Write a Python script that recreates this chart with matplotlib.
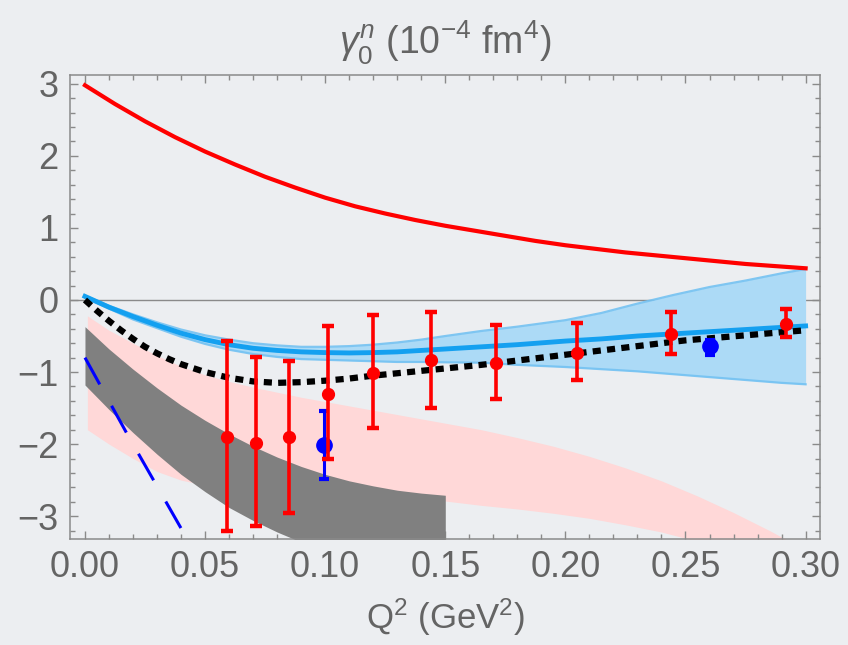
import matplotlib
matplotlib.use("Agg")
import matplotlib.pyplot as plt
from matplotlib.ticker import MultipleLocator, FormatStrFormatter

# Q^2 in GeV^2, gamma_0^n in 10^-4 fm^4
q_red = [0, 0.0125, 0.025, 0.0375, 0.05, 0.0625, 0.075, 0.0875, 0.1, 0.1125, 0.125,
         0.1375, 0.15, 0.1625, 0.175, 0.1875, 0.2, 0.225, 0.25, 0.275, 0.3]
red_curve = [2.98, 2.72, 2.48, 2.26, 2.06, 1.88, 1.71, 1.56, 1.42, 1.30, 1.20,
             1.11, 1.03, 0.96, 0.89, 0.82, 0.76, 0.66, 0.58, 0.50, 0.44]

q_blue = [0, 0.01, 0.02, 0.03, 0.04, 0.05, 0.06, 0.07, 0.08, 0.09, 0.1, 0.11, 0.12,
          0.13, 0.14, 0.15, 0.165, 0.18, 0.2, 0.215, 0.23, 0.245, 0.26, 0.275, 0.29, 0.3]
blue_mid = [0.05, -0.10, -0.23, -0.35, -0.46, -0.55, -0.62, -0.67, -0.70, -0.72, -0.73,
            -0.735, -0.73, -0.72, -0.70, -0.68, -0.65, -0.62, -0.57, -0.54, -0.50,
            -0.47, -0.44, -0.41, -0.38, -0.36]
blue_hi = [0.06, -0.08, -0.20, -0.31, -0.41, -0.49, -0.55, -0.60, -0.63, -0.65, -0.65,
           -0.64, -0.62, -0.59, -0.55, -0.50, -0.43, -0.37, -0.28, -0.18, -0.05,
           0.07, 0.18, 0.27, 0.37, 0.43]
blue_lo = [0.04, -0.12, -0.27, -0.39, -0.51, -0.61, -0.69, -0.75, -0.79, -0.82, -0.83,
           -0.84, -0.85, -0.86, -0.86, -0.865, -0.87, -0.90, -0.93, -0.96, -0.99,
           -1.03, -1.07, -1.11, -1.15, -1.17]

q_black = [0, 0.005, 0.01, 0.015, 0.02, 0.025, 0.03, 0.035, 0.04, 0.05, 0.06, 0.07,
           0.08, 0.09, 0.1, 0.11, 0.12, 0.135, 0.15, 0.165, 0.185, 0.205, 0.225, 0.25,
           0.275, 0.3]
black_curve = [0.0, -0.15, -0.29, -0.42, -0.54, -0.65, -0.74, -0.82, -0.89, -1.00,
               -1.08, -1.13, -1.15, -1.14, -1.12, -1.09, -1.05, -1.00, -0.95, -0.90,
               -0.82, -0.74, -0.66, -0.56, -0.49, -0.42]

q_pink = [0.001, 0.01, 0.02, 0.03, 0.04, 0.05, 0.06, 0.07, 0.08, 0.09, 0.1, 0.11, 0.12,
          0.135, 0.15, 0.165, 0.18, 0.195, 0.21, 0.225, 0.24, 0.255, 0.27, 0.285, 0.295]
pink_hi = [-0.22, -0.42, -0.60, -0.77, -0.92, -1.04, -1.13, -1.21, -1.28, -1.35, -1.41,
           -1.47, -1.53, -1.62, -1.71, -1.80, -1.91, -2.03, -2.17, -2.33, -2.51, -2.72,
           -2.95, -3.20, -3.38]
pink_lo = [-1.80, -2.00, -2.20, -2.38, -2.50, -2.57, -2.60, -2.63, -2.65, -2.67, -2.69,
           -2.71, -2.73, -2.76, -2.79, -2.85, -2.90, -2.96, -3.03, -3.12, -3.22, -3.35,
           -3.47, -3.60, -3.70]

q_gray = [0, 0.01, 0.02, 0.03, 0.04, 0.05, 0.06, 0.07, 0.08, 0.09, 0.1, 0.11, 0.12,
          0.13, 0.14, 0.15]
gray_hi = [-0.37, -0.68, -0.96, -1.22, -1.46, -1.67, -1.86, -2.03, -2.18, -2.31, -2.42,
           -2.51, -2.58, -2.64, -2.68, -2.71]
gray_lo = [-1.18, -1.52, -1.84, -2.14, -2.42, -2.66, -2.88, -3.06, -3.22, -3.36, -3.48,
           -3.60, -3.70, -3.80, -3.88, -3.95]

q_dash = [0, 0.0174, 0.045]
dash_curve = [-0.80, -1.85, -3.46]

x_exp = [0.059, 0.071, 0.085, 0.101, 0.120, 0.144, 0.171, 0.205, 0.244, 0.292]
y_exp = [-1.90, -1.98, -1.90, -1.30, -1.01, -0.83, -0.87, -0.73, -0.47, -0.33]
top_exp = [-0.57, -0.79, -0.85, -0.36, -0.21, -0.17, -0.35, -0.32, -0.16, -0.12]
bot_exp = [-3.20, -3.14, -2.95, -2.20, -1.77, -1.50, -1.37, -1.11, -0.75, -0.52]

x_blue_pts = [0.0997, 0.26]
y_blue_pts = [-2.01, -0.64]
top_blue_pts = [-1.54, -0.55]
bot_blue_pts = [-2.49, -0.76]

bg = "#eceef1"
frame = "#8a8a8a"
text_col = "#646464"

plt.rcParams["font.family"] = ["Liberation Sans", "DejaVu Sans"]
plt.rcParams["mathtext.fontset"] = "custom"
plt.rcParams["mathtext.rm"] = "Liberation Sans"
plt.rcParams["mathtext.it"] = "Liberation Sans:italic"

fig = plt.figure(figsize=(8.48, 6.45), dpi=100, facecolor=bg)
ax = fig.add_axes([0.0825, 0.164, 0.8845, 0.72])
ax.set_facecolor(bg)

ax.fill_between(q_pink, pink_lo, pink_hi, color="#ffd8d8", lw=0, zorder=1)
ax.fill_between(q_gray, gray_lo, gray_hi, color="#808080", lw=0, zorder=2)
ax.plot(q_dash, dash_curve, color="#0000ff", lw=2.2, dashes=(10, 8), zorder=3)

ax.fill_between(q_blue, blue_lo, blue_hi, color="#acdaf6", lw=0, zorder=4)
ax.plot(q_blue, blue_hi, color="#74c2f2", lw=1.6, alpha=0.9, zorder=4)
ax.plot(q_blue, blue_lo, color="#74c2f2", lw=1.6, alpha=0.9, zorder=4)
ax.plot(q_blue, blue_mid, color="#14a0f0", lw=3.5, zorder=5)

ax.axhline(0, color=frame, lw=1, zorder=3.5)

ax.plot(q_black, black_curve, color="black", lw=4.5, dashes=(1.3, 1.0),
        dash_capstyle="butt", zorder=6)
ax.plot(q_red, red_curve, color="#ff0000", lw=3, zorder=6)

blue_err = [[y - b for y, b in zip(y_blue_pts, bot_blue_pts)],
            [t - y for y, t in zip(y_blue_pts, top_blue_pts)]]
ax.errorbar(x_blue_pts, y_blue_pts, yerr=blue_err, fmt="o", color="#0000ff",
            ms=11, elinewidth=2.2, capsize=3.5, capthick=3, zorder=7)

red_err = [[y - b for y, b in zip(y_exp, bot_exp)],
           [t - y for y, t in zip(y_exp, top_exp)]]
ax.errorbar(x_exp, y_exp, yerr=red_err, fmt="o", color="#ff0000",
            ms=8.5, elinewidth=2.6, capsize=4.5, capthick=3.2, zorder=8)

ax.set_xlim(-0.00625, 0.306)
ax.set_ylim(-3.32, 3.125)
ax.xaxis.set_major_locator(MultipleLocator(0.05))
ax.xaxis.set_minor_locator(MultipleLocator(0.01))
ax.xaxis.set_major_formatter(FormatStrFormatter("%.2f"))
ax.yaxis.set_major_locator(MultipleLocator(1))
ax.yaxis.set_minor_locator(MultipleLocator(0.2))
ax.yaxis.set_major_formatter(lambda v, pos: f"{v:.0f}".replace("-", "\u2212"))

for s in ax.spines.values():
    s.set_color(frame)
    s.set_linewidth(1.1)
ax.tick_params(which="both", direction="in", top=True, right=True, color=frame,
               width=1.0, labelcolor=text_col, labelsize=26)
ax.tick_params(which="major", length=6, pad=8)
ax.tick_params(which="minor", length=3.3)

fig.text(0.5255, 0.934, r"$\gamma_0^n$ (10$^{-4}$ fm$^4$)", ha="center", va="center",
         fontsize=27, color=text_col)
ax.set_xlabel(r"Q$^2$ (GeV$^2$)", fontsize=25, color=text_col, labelpad=8)

fig.savefig("out.png", dpi=100, facecolor=bg)
